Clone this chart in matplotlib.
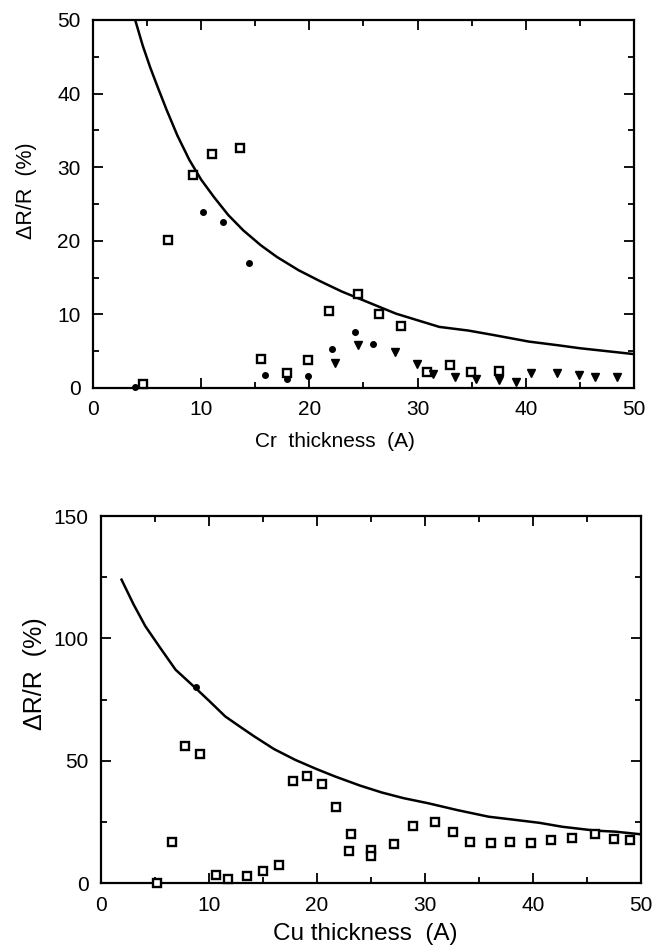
import matplotlib
matplotlib.use('Agg')
import matplotlib.pyplot as plt
from matplotlib.ticker import MultipleLocator

# --- Cr panel (top) ---
cr_curve_x = [3.9, 4.6, 5.3, 6.0, 6.8, 7.8, 8.9, 10.0, 11.2, 12.5, 13.9, 15.5, 17.0,
              19.0, 21.0, 23.0, 25.5, 28.0, 30.0, 32.0, 34.7, 37.0, 40.3, 43.0, 45.0,
              47.5, 50.0]
cr_curve_y = [50, 46.5, 43.5, 40.8, 37.8, 34.3, 31.0, 28.3, 25.9, 23.5, 21.4, 19.4, 17.8,
              16.0, 14.5, 13.1, 11.6, 10.1, 9.2, 8.3, 7.8, 7.2, 6.3, 5.8, 5.4,
              5.0, 4.6]
cr_sq_x = [4.6, 6.9, 9.2, 11.0, 13.6, 15.5, 17.9, 19.9, 21.8, 24.45, 26.45, 28.5,
           30.9, 33.0, 34.95, 37.5]
cr_sq_y = [0.6, 20.1, 28.9, 31.8, 32.6, 3.9, 2.1, 3.8, 10.5, 12.8, 10.0, 8.4,
           2.2, 3.1, 2.2, 2.35]
cr_dot_x = [3.9, 10.2, 12.0, 14.4, 15.9, 17.9, 19.9, 22.1, 24.2, 25.9]
cr_dot_y = [0.2, 23.9, 22.5, 17.0, 1.7, 1.2, 1.6, 5.3, 7.6, 6.0]
cr_tri_x = [22.4, 24.45, 27.9, 29.9, 31.4, 33.5, 35.4, 37.5, 39.05, 40.5, 42.9,
            44.9, 46.4, 48.4]
cr_tri_y = [3.4, 5.8, 4.9, 3.3, 1.9, 1.45, 1.2, 1.1, 0.8, 2.1, 2.1,
            1.8, 1.5, 1.45]

# --- Cu panel (bottom) ---
cu_curve_x = [1.9, 3.0, 4.1, 5.5, 6.9, 8.75, 10.0, 11.5, 13.0, 14.2, 16.0, 18.0,
              20.0, 21.7, 24.0, 26.0, 28.0, 30.3, 33.0, 35.9, 38.0, 40.6, 42.7,
              45.8, 47.6, 49.8]
cu_curve_y = [124, 114, 105, 96, 87.2, 79.7, 74.5, 68.1, 63.5, 59.9, 54.8, 50.3,
              46.5, 43.5, 39.8, 37.0, 34.7, 32.6, 29.8, 27.1, 26.0, 24.6, 23.0,
              21.4, 21.0, 20.0]
cu_dot_x = [8.75]
cu_dot_y = [80]
cu_sq_x = [5.15, 6.6, 7.8, 9.2, 10.65, 11.8, 13.5, 15.0, 16.45, 17.8, 19.1, 20.45,
           21.75, 23.1, 23.0, 25.0, 25.0, 27.1, 28.9, 30.9, 32.6, 34.2, 36.1, 37.9,
           39.8, 41.7, 43.6, 45.7, 47.5, 48.95]
cu_sq_y = [0.1, 16.7, 56.1, 52.7, 3.3, 1.6, 3.0, 4.9, 7.4, 41.5, 43.9, 40.4,
           31.2, 20.0, 13.2, 13.5, 11.0, 15.8, 23.3, 24.8, 21.0, 16.9, 16.2, 16.7,
           16.5, 17.6, 18.3, 20.0, 18.0, 17.6]

plt.rcParams['font.family'] = ['Liberation Sans', 'DejaVu Sans']

fig = plt.figure(figsize=(6.53, 9.5), dpi=100)
ax1 = fig.add_axes([0.1424, 0.5916, 0.8285, 0.3874])
ax2 = fig.add_axes([0.1547, 0.0705, 0.827, 0.3863])

sq = dict(marker='s', ms=5.5, mfc='white', mec='black', mew=1.7, ls='none', clip_on=False, zorder=3)
dot = dict(marker='o', ms=4, color='black', ls='none', clip_on=False, zorder=3)
tri = dict(marker='v', ms=5.5, color='black', ls='none', clip_on=False, zorder=3)

ax1.plot(cr_curve_x, cr_curve_y, color='black', lw=1.8)
ax1.plot(cr_sq_x, cr_sq_y, **sq)
ax1.plot(cr_dot_x, cr_dot_y, **dot)
ax1.plot(cr_tri_x, cr_tri_y, **tri)

ax2.plot(cu_curve_x, cu_curve_y, color='black', lw=1.8)
ax2.plot(cu_dot_x, cu_dot_y, **dot)
ax2.plot(cu_sq_x, cu_sq_y, **sq)

for ax, ymax, ymaj, ymin in [(ax1, 50, 10, 5), (ax2, 150, 50, 25)]:
    ax.set_xlim(0, 50)
    ax.set_ylim(0, ymax)
    ax.xaxis.set_major_locator(MultipleLocator(10))
    ax.xaxis.set_minor_locator(MultipleLocator(5))
    ax.yaxis.set_major_locator(MultipleLocator(ymaj))
    ax.yaxis.set_minor_locator(MultipleLocator(ymin))
    ax.tick_params(which='both', direction='in', top=True, right=True, width=1.3)
    ax.tick_params(which='major', length=7, labelsize=15, pad=9)
    ax.tick_params(which='minor', length=4)
    for s in ax.spines.values():
        s.set_linewidth(1.6)

ax1.set_xlabel('Cr  thickness  (A)', fontsize=15)
ax1.set_ylabel('ΔR/R  (%)', fontsize=15.5)
ax1.xaxis.set_label_coords(0.447, -0.12)
ax1.yaxis.set_label_coords(-0.103, 0.535)

ax2.set_xlabel('Cu thickness  (A)', fontsize=17.5)
ax2.set_ylabel('ΔR/R  (%)', fontsize=18)
ax2.xaxis.set_label_coords(0.49, -0.108)
ax2.yaxis.set_label_coords(-0.1, 0.57)

fig.savefig('out.png', dpi=100)
